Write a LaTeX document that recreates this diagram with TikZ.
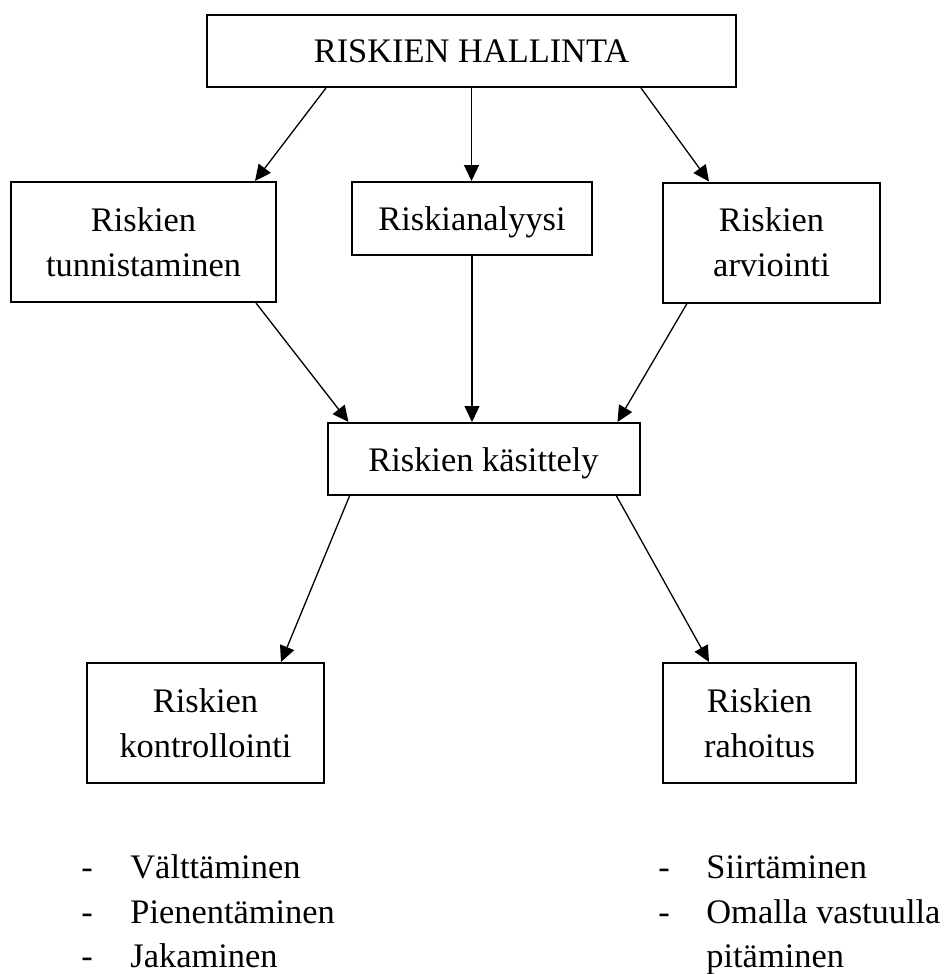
\documentclass[tikz,border=0pt]{standalone}
\usepackage{fontspec}
\setmainfont{Liberation Serif}
\usetikzlibrary{arrows.meta,calc}

\begin{document}
\begin{tikzpicture}[x=0.5pt,y=-0.5pt,
  every node/.style={font=\fontsize{17.2pt}{22.4pt}\selectfont},
  box/.style={draw,line width=1pt,rectangle,inner sep=0pt,align=center},
  oneline/.style={text height=12pt,text depth=0pt},
  arr/.style={line width=0.65pt,-{Triangle[length=8pt,width=7.5pt]}},
  item/.style={anchor=base west,inner sep=0pt}
]
\useasboundingbox (0,0) rectangle (945,974);

% boxes
\node[box,oneline,minimum width=264.5pt,minimum height=36pt] (top) at (471.5,51) {RISKIEN HALLINTA};
\node[box,minimum width=132.5pt,minimum height=60pt] (tun) at (143.5,242) {Riskien\\tunnistaminen};
\node[box,oneline,minimum width=120pt,minimum height=36.5pt] (ana) at (472,218.5) {Riskianalyysi};
\node[box,minimum width=108.5pt,minimum height=60pt] (arv) at (771.5,242.5) {Riskien\\arviointi};
\node[box,oneline,minimum width=156pt,minimum height=36pt] (kas) at (483.5,459) {Riskien käsittely};
\node[box,minimum width=118.5pt,minimum height=60pt] (kon) at (205.5,723) {Riskien\\kontrollointi};
\node[box,minimum width=96.5pt,minimum height=60pt] (rah) at (759.5,723) {Riskien\\rahoitus};

% connectors
\draw[arr] ($(top.south west)+(120,0)$) -- ($(tun.north west)+(245,0)$);
\draw[arr] (top.south) -- (top.south |- ana.north);
\draw[arr] ($(top.south east)+(-96,0)$) -- ($(arv.north west)+(47,0)$);
\draw[arr] ($(tun.south east)+(-21,0)$) -- ($(kas.north west)+(22,0)$);
\draw[arr] (ana.south) -- (ana.south |- kas.north);
\draw[arr] ($(arv.south west)+(25,0)$) -- ($(kas.north east)+(-23,0)$);
\draw[arr] ($(kas.south west)+(23,0)$) -- ($(kon.north east)+(-44,0)$);
\draw[arr] ($(kas.south east)+(-24,0)$) -- ($(rah.north west)+(47,0)$);

% lists under the lower boxes
\node[item] (d1) at (81,878) {-};
\node[item] (l1) at (130,878) {Välttäminen};
\node[item] (d2) at (81,923) {-};
\node[item] (l2) at (130,923) {Pienentäminen};
\node[item] (d3) at (81,967) {-};
\node[item] (l3) at (130,967) {Jakaminen};

\node[item] (d4) at (658,878) {-};
\node[item] (r1) at (706,878) {Siirtäminen};
\node[item] (d5) at (658,923) {-};
\node[item] (r2) at (706,923) {Omalla vastuulla};
\node[item] (r3) at (706,967) {pitäminen};
\end{tikzpicture}
\end{document}
